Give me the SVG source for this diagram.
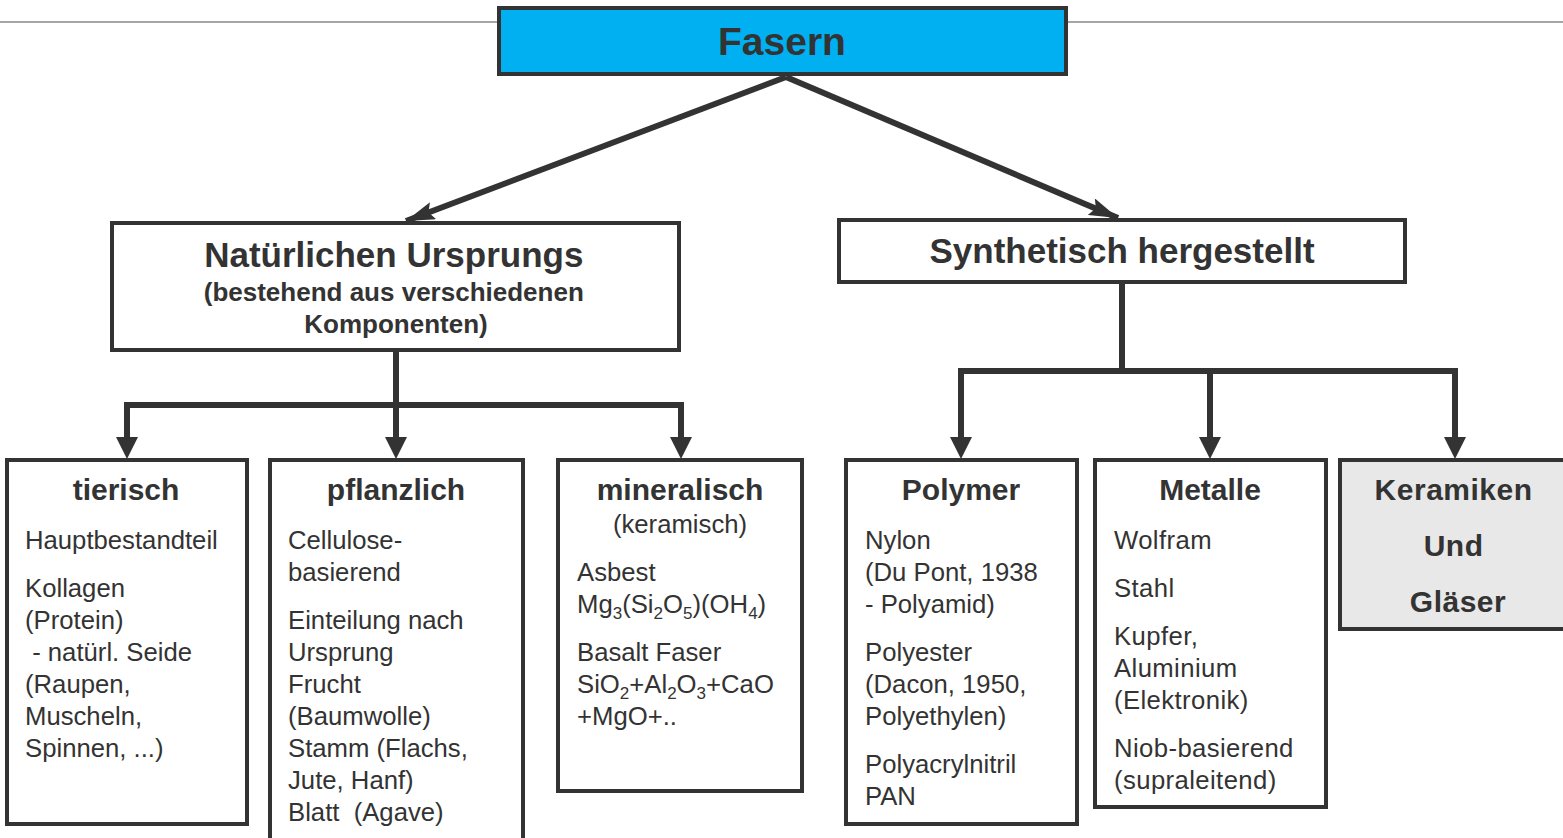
<svg xmlns="http://www.w3.org/2000/svg" width="1563" height="838" viewBox="0 0 1563 838">
<style>
.box{fill:#fff;stroke:#333;stroke-width:4}
.t{font-family:"Liberation Sans",Arial,sans-serif;fill:#333}
.h{font-weight:bold;font-size:30px;text-anchor:middle}
.b{font-size:25.7px}
.c{stroke:#333;stroke-width:6;fill:none}
.sub{font-size:17px}
</style>
<defs>
<marker id="ad" markerUnits="userSpaceOnUse" markerWidth="30" markerHeight="18" viewBox="0 0 30 18" refX="29" refY="9" orient="auto">
<path d="M0,0 L29,9 L0,18 L5,9 z" fill="#333"/>
</marker>
</defs>
<line x1="0" y1="22" x2="1563" y2="22" stroke="#A6A6A6" stroke-width="2"/>
<g id="connectors">
<line class="c" x1="786" y1="77" x2="406" y2="221" marker-end="url(#ad)"/>
<line class="c" x1="786" y1="77" x2="1118" y2="218" marker-end="url(#ad)"/>
<path class="c" d="M396,350 V405"/>
<path class="c" d="M127,445 V405 H681 V445"/>
<path class="c" d="M396,405 V445"/>
<path class="c" d="M1122,282 V371"/>
<path class="c" d="M961,445 V371 H1455 V445"/>
<path class="c" d="M1210,371 V445"/>
<polygon points="116,437 138,437 127,459" fill="#333"/>
<polygon points="385,437 407,437 396,459" fill="#333"/>
<polygon points="670,437 692,437 681,459" fill="#333"/>
<polygon points="950,437 972,437 961,459" fill="#333"/>
<polygon points="1199,437 1221,437 1210,459" fill="#333"/>
<polygon points="1444,437 1466,437 1455,459" fill="#333"/>
</g>
<g id="fasern">
<rect x="499" y="8" width="567" height="66" fill="#00B0F0" stroke="#333" stroke-width="4"/>
<text class="t" x="782" y="55" text-anchor="middle" font-weight="bold" font-size="39">Fasern</text>
</g>
<g id="natuerlich">
<rect class="box" x="112" y="223" width="567" height="127"/>
<text class="t" text-anchor="middle" font-weight="bold">
<tspan x="396" y="267" font-size="35">Natürlichen Ursprungs</tspan>
<tspan x="396" y="301" font-size="26">(bestehend aus verschiedenen</tspan>
<tspan x="396" y="333" font-size="26">Komponenten)</tspan>
</text>
</g>
<g id="synthetisch">
<rect class="box" x="839" y="220" width="566" height="62"/>
<text class="t" x="1122" y="263" text-anchor="middle" font-weight="bold" font-size="35">Synthetisch hergestellt</text>
</g>
<g id="tierisch">
<rect class="box" x="7" y="460" width="240" height="364"/>
<text class="t h" x="126" y="500">tierisch</text>
<text class="t b">
<tspan x="25" y="549">Hauptbestandteil</tspan>
<tspan x="25" y="597">Kollagen</tspan>
<tspan x="25" y="629">(Protein)</tspan>
<tspan x="25" y="661" xml:space="preserve"> - natürl. Seide</tspan>
<tspan x="25" y="693">(Raupen,</tspan>
<tspan x="25" y="725">Muscheln,</tspan>
<tspan x="25" y="757">Spinnen, ...)</tspan>
</text>
</g>
<g id="pflanzlich">
<rect class="box" x="270" y="460" width="253" height="384"/>
<text class="t h" x="396" y="500">pflanzlich</text>
<text class="t b">
<tspan x="288" y="549">Cellulose-</tspan>
<tspan x="288" y="581">basierend</tspan>
<tspan x="288" y="629">Einteilung nach</tspan>
<tspan x="288" y="661">Ursprung</tspan>
<tspan x="288" y="693">Frucht</tspan>
<tspan x="288" y="725">(Baumwolle)</tspan>
<tspan x="288" y="757">Stamm (Flachs,</tspan>
<tspan x="288" y="789">Jute, Hanf)</tspan>
<tspan x="288" y="821" xml:space="preserve">Blatt  (Agave)</tspan>
</text>
</g>
<g id="mineralisch">
<rect class="box" x="558" y="460" width="244" height="331"/>
<text class="t h" x="680" y="500">mineralisch</text>
<text class="t b" x="680" y="533" text-anchor="middle">(keramisch)</text>
<text class="t b" x="577" y="581">Asbest</text>
<text class="t b" x="577" y="613">Mg<tspan class="sub" dy="6">3</tspan><tspan dy="-6">(Si</tspan><tspan class="sub" dy="6">2</tspan><tspan dy="-6">O</tspan><tspan class="sub" dy="6">5</tspan><tspan dy="-6">)(OH</tspan><tspan class="sub" dy="6">4</tspan><tspan dy="-6">)</tspan></text>
<text class="t b" x="577" y="661">Basalt Faser</text>
<text class="t b" x="577" y="693">SiO<tspan class="sub" dy="6">2</tspan><tspan dy="-6">+Al</tspan><tspan class="sub" dy="6">2</tspan><tspan dy="-6">O</tspan><tspan class="sub" dy="6">3</tspan><tspan dy="-6">+CaO</tspan></text>
<text class="t b" x="577" y="725">+MgO+..</text>
</g>
<g id="polymer">
<rect class="box" x="846" y="460" width="231" height="364"/>
<text class="t h" x="961" y="500">Polymer</text>
<text class="t b">
<tspan x="865" y="549">Nylon</tspan>
<tspan x="865" y="581">(Du Pont, 1938</tspan>
<tspan x="865" y="613">- Polyamid)</tspan>
<tspan x="865" y="661">Polyester</tspan>
<tspan x="865" y="693">(Dacon, 1950,</tspan>
<tspan x="865" y="725">Polyethylen)</tspan>
<tspan x="865" y="773">Polyacrylnitril</tspan>
<tspan x="865" y="805">PAN</tspan>
</text>
</g>
<g id="metalle">
<rect class="box" x="1095" y="460" width="231" height="347"/>
<text class="t h" x="1210" y="500">Metalle</text>
<text class="t b" letter-spacing="0.4">
<tspan x="1114" y="549">Wolfram</tspan>
<tspan x="1114" y="597">Stahl</tspan>
<tspan x="1114" y="645">Kupfer,</tspan>
<tspan x="1114" y="677">Aluminium</tspan>
<tspan x="1114" y="709">(Elektronik)</tspan>
<tspan x="1114" y="757">Niob-basierend</tspan>
<tspan x="1114" y="789">(supraleitend)</tspan>
</text>
</g>
<g id="keramiken">
<rect x="1340" y="460" width="230" height="169" fill="#E8E8E8" stroke="#333" stroke-width="4"/>
<text class="t h" letter-spacing="0.5">
<tspan x="1458" y="500">Keramiken</tspan>
<tspan x="1458" y="556">Und</tspan>
<tspan x="1458" y="612">Gläser</tspan>
</text>
</g>
</svg>
